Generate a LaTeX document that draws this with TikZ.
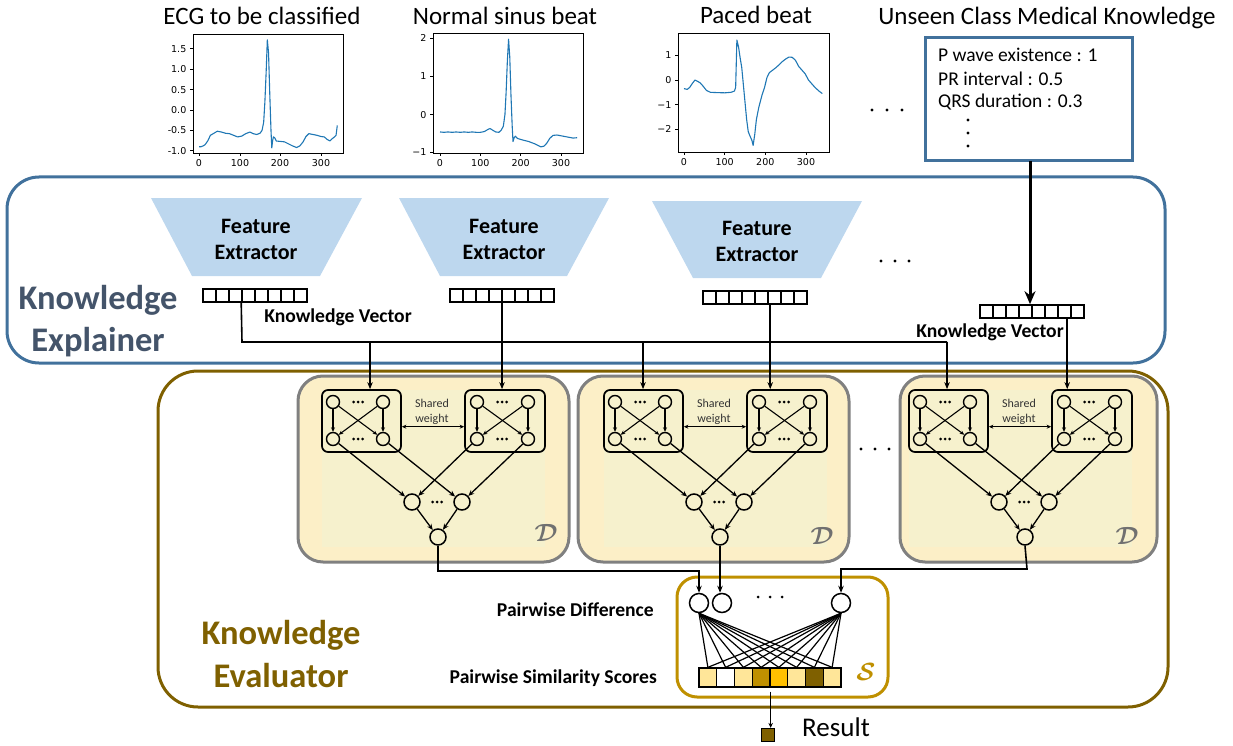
\documentclass[tikz,border=0pt]{standalone}
\usepackage{fontspec}
\setmainfont{Carlito}
\newfontfamily\dejavu{DejaVu Sans}
\usetikzlibrary{arrows.meta,calc}
\newcommand\setfs[1]{\fontsize{#1}{#1}\selectfont}
\definecolor{plotblue}{HTML}{1F77B4}
\definecolor{expblue}{HTML}{41719C}
\definecolor{expfill}{HTML}{BDD7EE}
\definecolor{exptext}{HTML}{44546A}
\definecolor{olive}{HTML}{7F6000}
\definecolor{gold}{HTML}{BF9000}
\definecolor{amber}{HTML}{FFC000}
\definecolor{paleyel}{HTML}{FFE699}
\definecolor{dfill}{HTML}{FCEFC7}
\definecolor{dinner}{HTML}{F6F1CD}
\definecolor{dgray}{HTML}{808080}
\definecolor{dsym}{HTML}{707070}
\tikzset{
  conn/.style={line width=1.6pt},
  arr/.style={line width=1.6pt,-{Stealth[length=7pt,width=5.5pt]}},
  sarr/.style={line width=1.1pt,-{Stealth[length=4.5pt,width=4pt]}},
  marr/.style={line width=1.3pt,-{Stealth[length=6pt,width=5pt]}},
  ttl/.style={font={\setfs{25}},inner sep=0},
  tk/.style={font={\dejavu\setfs{9.5}},inner sep=0},
  axisbox/.style={line width=0.8pt},
  ecg/.style={plotblue,line width=1.1pt,line join=round},
  sbox/.style={draw,line width=1.7pt,rounded corners=6pt,minimum height=62pt,inner sep=0},
  scirc/.style={draw,circle,line width=1.4pt,minimum size=13pt,inner sep=0},
  mcirc/.style={draw,circle,line width=1.5pt,minimum size=16pt,inner sep=0},
  pcirc/.style={draw,circle,line width=1.5pt,minimum size=19pt,inner sep=0},
  kv/.style={draw,line width=1.6pt,minimum width=104pt,minimum height=13pt,inner sep=0,
    path picture={\foreach \i in {1,...,7}
      \draw[line width=1.4pt] ([xshift=\i*13pt]path picture bounding box.north west) --
        ([xshift=\i*13pt]path picture bounding box.south west);}},
  cell/.style={draw,line width=1.3pt,minimum width=17.75pt,minimum height=19pt,inner sep=0},
  lbl/.style={font={\bfseries\setfs{19.6}},inner sep=0},
  dnet/.pic={
    \node[sbox,minimum width=79pt] (-lb) at (39.5,31) {};
    \node[sbox,minimum width=80pt] (-rb) at (183,31) {};
    \foreach \n/\x/\y in {a1/11/12,a2/61/12,a3/11/49,a4/61/49,b1/155/12,b2/206/12,b3/155/49,b4/206/49}
      \node[scirc] (-\n) at (\x,\y) {};
    \foreach \x in {31.5,36,40.5,175.5,180,184.5}
      {\fill (\x,12) circle (1.5pt); \fill (\x,49) circle (1.5pt);}
    \draw[sarr] (-a1) -- (-a3); \draw[sarr] (-a2) -- (-a4);
    \draw[sarr] (-a1) -- (-a4); \draw[sarr] (-a2) -- (-a3);
    \draw[sarr] (-b1) -- (-b3); \draw[sarr] (-b2) -- (-b4);
    \draw[sarr] (-b1) -- (-b4); \draw[sarr] (-b2) -- (-b3);
    \node[font={\setfs{12}},text=black!80,inner sep=0] (-sw1) at (110,13.3) {Shared};
    \node[font={\setfs{12}},text=black!80,inner sep=0] (-sw2) at (110,29.3) {weight};
    \coordinate (-swy) at (110,36.7);
    \draw[line width=1.2pt,{Stealth[length=4.5pt,width=4pt]}-{Stealth[length=4.5pt,width=4pt]}] (-lb.east |- -swy) -- (-rb.west |- -swy);
    \node[mcirc] (-m1) at (90,112) {};
    \node[mcirc] (-m2) at (140,112) {};
    \foreach \x in {110.5,115,119.5} \fill (\x,112) circle (1.5pt);
    \node[mcirc] (-o) at (116,147) {};
    \draw[marr] (-a3) -- (-m1); \draw[marr] (-a4) -- (-m2);
    \draw[marr] (-b3) -- (-m1); \draw[marr] (-b4) -- (-m2);
    \draw[marr] (-m1) -- (-o); \draw[marr] (-m2) -- (-o);
  }
}
\begin{document}
\begin{tikzpicture}[x=1pt,y=-1pt]
\useasboundingbox (0,0) rectangle (1233,746);

% ---------------- top plots ----------------
\node[ttl] (t1) at (262,16) {ECG to be classified};
\node[ttl] (t2) at (505,16) {Normal sinus beat};
\node[ttl] (t3) at (756,15) {Paced beat};
\node[ttl] (t4) at (1047,18) {Unseen Class Medical Knowledge};

% plot 1
\draw[axisbox] (193,34) rectangle (343,153);
\foreach \x/\l [count=\i] in {199/0,240/100,280/200,321/300}
  {\draw[axisbox] (\x,153) -- (\x,156.5); \node[tk,anchor=north] (pa\i) at (\x,159.5) {\l};}
\foreach \y/\l [count=\i] in {48.8/1.5,69.2/1.0,89.6/0.5,110/0.0,130.4/-0.5,150.8/-1.0}
  {\draw[axisbox] (193,\y) -- (189.5,\y); \node[tk,anchor=east] (pb\i) at (186.5,\y) {\l};}
\begin{scope}[shift={(199,110)},x=0.4067pt,y=40.8pt]
\draw[ecg] plot coordinates {(0,-0.9) (5,-0.9) (10,-0.88) (15,-0.85) (22,-0.75) (28,-0.62) (35,-0.58) (45,-0.52) (55,-0.54) (65,-0.57) (75,-0.58) (85,-0.62) (95,-0.66) (105,-0.64) (115,-0.58) (125,-0.54) (133,-0.58) (142,-0.6) (150,-0.57) (155,-0.5) (159,-0.3) (162,0.2) (165,0.9) (168,1.72) (171,1.4) (174,0.4) (177,-0.5) (179,-0.93) (181,-0.75) (183,-0.66) (186,-0.68) (190,-0.76) (200,-0.77) (210,-0.78) (220,-0.83) (230,-0.88) (240,-0.92) (248,-0.88) (256,-0.78) (263,-0.65) (270,-0.58) (280,-0.6) (290,-0.62) (300,-0.65) (308,-0.66) (315,-0.72) (322,-0.76) (328,-0.7) (333,-0.66) (337,-0.62) (340,-0.38)};
\end{scope}

% plot 2
\draw[axisbox] (433,33) rectangle (583,153);
\foreach \x/\l [count=\i] in {440/0,480.3/100,520.6/200,561/300}
  {\draw[axisbox] (\x,153) -- (\x,156.5); \node[tk,anchor=north] (pc\i) at (\x,159.5) {\l};}
\foreach \y/\l [count=\i] in {38/2,76.3/1,114.7/0,152.5/−1}
  {\draw[axisbox] (433,\y) -- (429.5,\y); \node[tk,anchor=east] (pd\i) at (426.5,\y) {\l};}
\begin{scope}[shift={(440,114.7)},x=0.4033pt,y=38.33pt]
\draw[ecg] plot coordinates {(0,-0.45) (10,-0.46) (20,-0.45) (30,-0.46) (40,-0.45) (50,-0.46) (60,-0.45) (70,-0.46) (80,-0.45) (90,-0.46) (100,-0.46) (110,-0.44) (118,-0.39) (124,-0.36) (130,-0.4) (138,-0.45) (146,-0.46) (152,-0.4) (157,-0.3) (161,0) (164,0.6) (167,1.4) (170,1.97) (173,1.5) (176,0.5) (179,-0.3) (181,-0.7) (184,-0.6) (187,-0.56) (192,-0.62) (205,-0.66) (220,-0.7) (235,-0.76) (250,-0.84) (258,-0.82) (265,-0.74) (272,-0.62) (280,-0.54) (290,-0.53) (300,-0.55) (315,-0.58) (330,-0.61) (340,-0.6)};
\end{scope}

% plot 3
\draw[axisbox] (678,33) rectangle (829,152);
\foreach \x/\l [count=\i] in {684/0,724.7/100,765.3/200,806/300}
  {\draw[axisbox] (\x,152) -- (\x,155.5); \node[tk,anchor=north] (pe\i) at (\x,158.5) {\l};}
\foreach \y/\l [count=\i] in {55/1,80/0,104.7/−1,129.3/−2}
  {\draw[axisbox] (678,\y) -- (674.5,\y); \node[tk,anchor=east] (pf\i) at (671.5,\y) {\l};}
\begin{scope}[shift={(684,80)},x=0.4067pt,y=24.67pt]
\draw[ecg] plot coordinates {(0,-0.35) (8,-0.38) (14,-0.3) (20,-0.15) (27,0) (33,-0.05) (40,-0.12) (47,-0.25) (55,-0.42) (65,-0.5) (80,-0.51) (100,-0.52) (115,-0.5) (124,-0.45) (127,-0.3) (130,1.62) (134,1.35) (138,0.9) (142,0.5) (146,-0.2) (150,-0.9) (154,-1.6) (158,-2.1) (163,-2.3) (167,-2.45) (170,-2.65) (174,-2.2) (178,-1.6) (184,-1.1) (192,-0.6) (198,-0.3) (204,0.1) (210,0.3) (218,0.4) (226,0.5) (234,0.62) (242,0.75) (250,0.85) (258,0.93) (266,0.92) (274,0.8) (282,0.55) (290,0.4) (298,0.25) (306,0) (314,-0.15) (322,-0.3) (332,-0.45) (340,-0.55)};
\end{scope}

\foreach \x [count=\i] in {872,887,902} \fill (\x,110) circle (1.6pt) coordinate (td\i);

% knowledge box
\draw[expblue,line width=3pt] (925,38) rectangle (1132,161);
\coordinate (kboxs) at (1030,161);
\node[font={\setfs{19.5}},anchor=west,inner sep=0] (kt1) at (938,55) {P wave existence : 1};
\node[font={\setfs{19.5}},anchor=west,inner sep=0] (kt2) at (938,79) {PR interval : 0.5};
\node[font={\setfs{19.5}},anchor=west,inner sep=0] (kt3) at (938,102) {QRS duration : 0.3};
\foreach \y [count=\i] in {120,133,146} \fill (968,\y) circle (1.6pt) coordinate (kd\i);

% ---------------- knowledge explainer ----------------
\draw[expblue,line width=3pt,rounded corners=32pt] (7,177) rectangle (1165,363);
\node[font={\bfseries\setfs{34.5}},text=exptext,inner sep=0] (kex1) at (98,300) {Knowledge};
\node[font={\bfseries\setfs{34.5}},text=exptext,inner sep=0] (kex2) at (98,342) {Explainer};

\fill[expfill] (151,198) -- (362,198) -- (320,276) -- (192,276) -- cycle;
\fill[expfill] (399,198) -- (609,198) -- (567,276) -- (440,276) -- cycle;
\fill[expfill] (652,201) -- (862,201) -- (821,278) -- (693,278) -- cycle;
\node[font={\bfseries\setfs{22}},align=center,inner sep=0] (fe1) at (256,239) {Feature\\[4pt]Extractor};
\node[font={\bfseries\setfs{22}},align=center,inner sep=0] (fe2) at (504,239) {Feature\\[4pt]Extractor};
\node[font={\bfseries\setfs{22}},align=center,inner sep=0] (fe3) at (757,241) {Feature\\[4pt]Extractor};
\foreach \x [count=\i] in {881,895,909} \fill (\x,261) circle (1.6pt) coordinate (ed\i);

\node[kv] (kv1) at (255,295.5) {};
\node[kv] (kv2) at (502,295.5) {};
\node[kv] (kv3) at (755,297.5) {};
\node[kv] (kv4) at (1032,311.5) {};
\node[lbl] (kvl1) at (338,317) {Knowledge Vector};
\node[lbl] (kvl2) at (990,332) {Knowledge Vector};

\draw[line width=3pt,-{Stealth[length=13pt,width=11pt]}] (kboxs) -- (kboxs |- kv4.north);

% ---------------- knowledge evaluator ----------------
\draw[olive,line width=3pt,rounded corners=40pt] (158,371) rectangle (1168,707);
\node[font={\bfseries\setfs{34.5}},text=olive,inner sep=0] (kev1) at (281,635) {Knowledge};
\node[font={\bfseries\setfs{34.5}},text=olive,inner sep=0] (kev2) at (281,676) {Evaluator};

% D blocks
\foreach \l/\r in {298/569,578/849,900/1157} {
  \draw[dgray,fill=dfill,line width=3pt,rounded corners=25pt] (\l,376) rectangle (\r,562);
}
\fill[dinner] (322,390) rectangle (545,547);
\fill[dinner] (604,390) rectangle (827,547);
\fill[dinner] (909,390) rectangle (1132,547);
\pic (d1) at (322,390) {dnet};
\pic (d2) at (604,390) {dnet};
\pic (d3) at (909,390) {dnet};
\node[text=dsym,font={\boldmath\setfs{36}},inner sep=0] (ds1) at (546,533) {$\mathcal{D}$};
\node[text=dsym,font={\boldmath\setfs{36}},inner sep=0] (ds2) at (822,536) {$\mathcal{D}$};
\node[text=dsym,font={\boldmath\setfs{36}},inner sep=0] (ds3) at (1127,536) {$\mathcal{D}$};
\foreach \x [count=\i] in {861,875,889} \fill (\x,449) circle (1.6pt) coordinate (dd\i);

% explainer -> evaluator connectors
\coordinate (h0) at (242,342);
\coordinate (h1) at (947,342);
\coordinate (v1) at (370,342);
\coordinate (v2) at (643,342);
\draw[conn] ([xshift=39pt]kv1.south west) -- (h0) -- (h1);
\draw[arr] (h1) -- (h1 |- d3-lb.north);
\draw[arr] (v1) -- (v1 |- d1-lb.north);
\draw[arr] (v2) -- (v2 |- d2-lb.north);
\draw[arr] (kv2.south) -- (kv2.south |- d1-rb.north);
\draw[arr] ([xshift=68pt]kv3.south west) -- ([xshift=68pt]kv3.south west |- d2-rb.north);
\draw[arr] ([xshift=88pt]kv4.south west) -- ([xshift=88pt]kv4.south west |- d3-rb.north);

% S block
\draw[gold,line width=3pt,rounded corners=20pt] (677,577) rectangle (888,697);
\node[pcirc] (pd1) at (699,603) {};
\node[pcirc] (pd2) at (722,603) {};
\node[pcirc] (pd3) at (841,603) {};
\foreach \x [count=\i] in {758,770,782} \fill (\x,597) circle (1.5pt) coordinate (sd\i);
\foreach \c [count=\i] in {paleyel,white,paleyel,gold,amber,paleyel,olive,paleyel}
  \node[cell,fill=\c] (c\i) at ({699+17.75*(\i-0.5)},677.5) {};
\foreach \i in {1,...,8} {\draw[line width=1.2pt] (pd1.south) -- (c\i.north); \draw[line width=1.2pt] (pd3.south) -- (c\i.north);}
\node[text=gold,font={\boldmath\setfs{28}},inner sep=0] (ssym) at (866,672) {$\mathcal{S}$};
\node[lbl,anchor=east] (pdl) at (654,610) {Pairwise Difference};
\node[lbl,anchor=east] (psl) at (657,678) {Pairwise Similarity Scores};

% D outputs -> pairwise difference
\coordinate (j1) at (438,571);
\coordinate (j3) at (1027,569);
\draw[arr] (d1-o.south) -- (j1) -| (pd1.north);
\draw[arr] (d2-o.south) -- (d2-o.south |- pd2.north);
\draw[arr] (d3-o.south) -- (j3) -| (pd3.north);

% result
\node[draw,fill=olive,line width=1.2pt,minimum size=13pt,inner sep=0] (res) at (768,735) {};
\coordinate (rs) at ([yshift=-4pt]c4.south east);
\draw[line width=1.2pt,-{Stealth[length=5pt,width=4.5pt]}] (rs) -- (rs |- res.north);
\node[font={\setfs{27}},anchor=west,inner sep=0] (resl) at (802,727) {Result};
\end{tikzpicture}
\end{document}
